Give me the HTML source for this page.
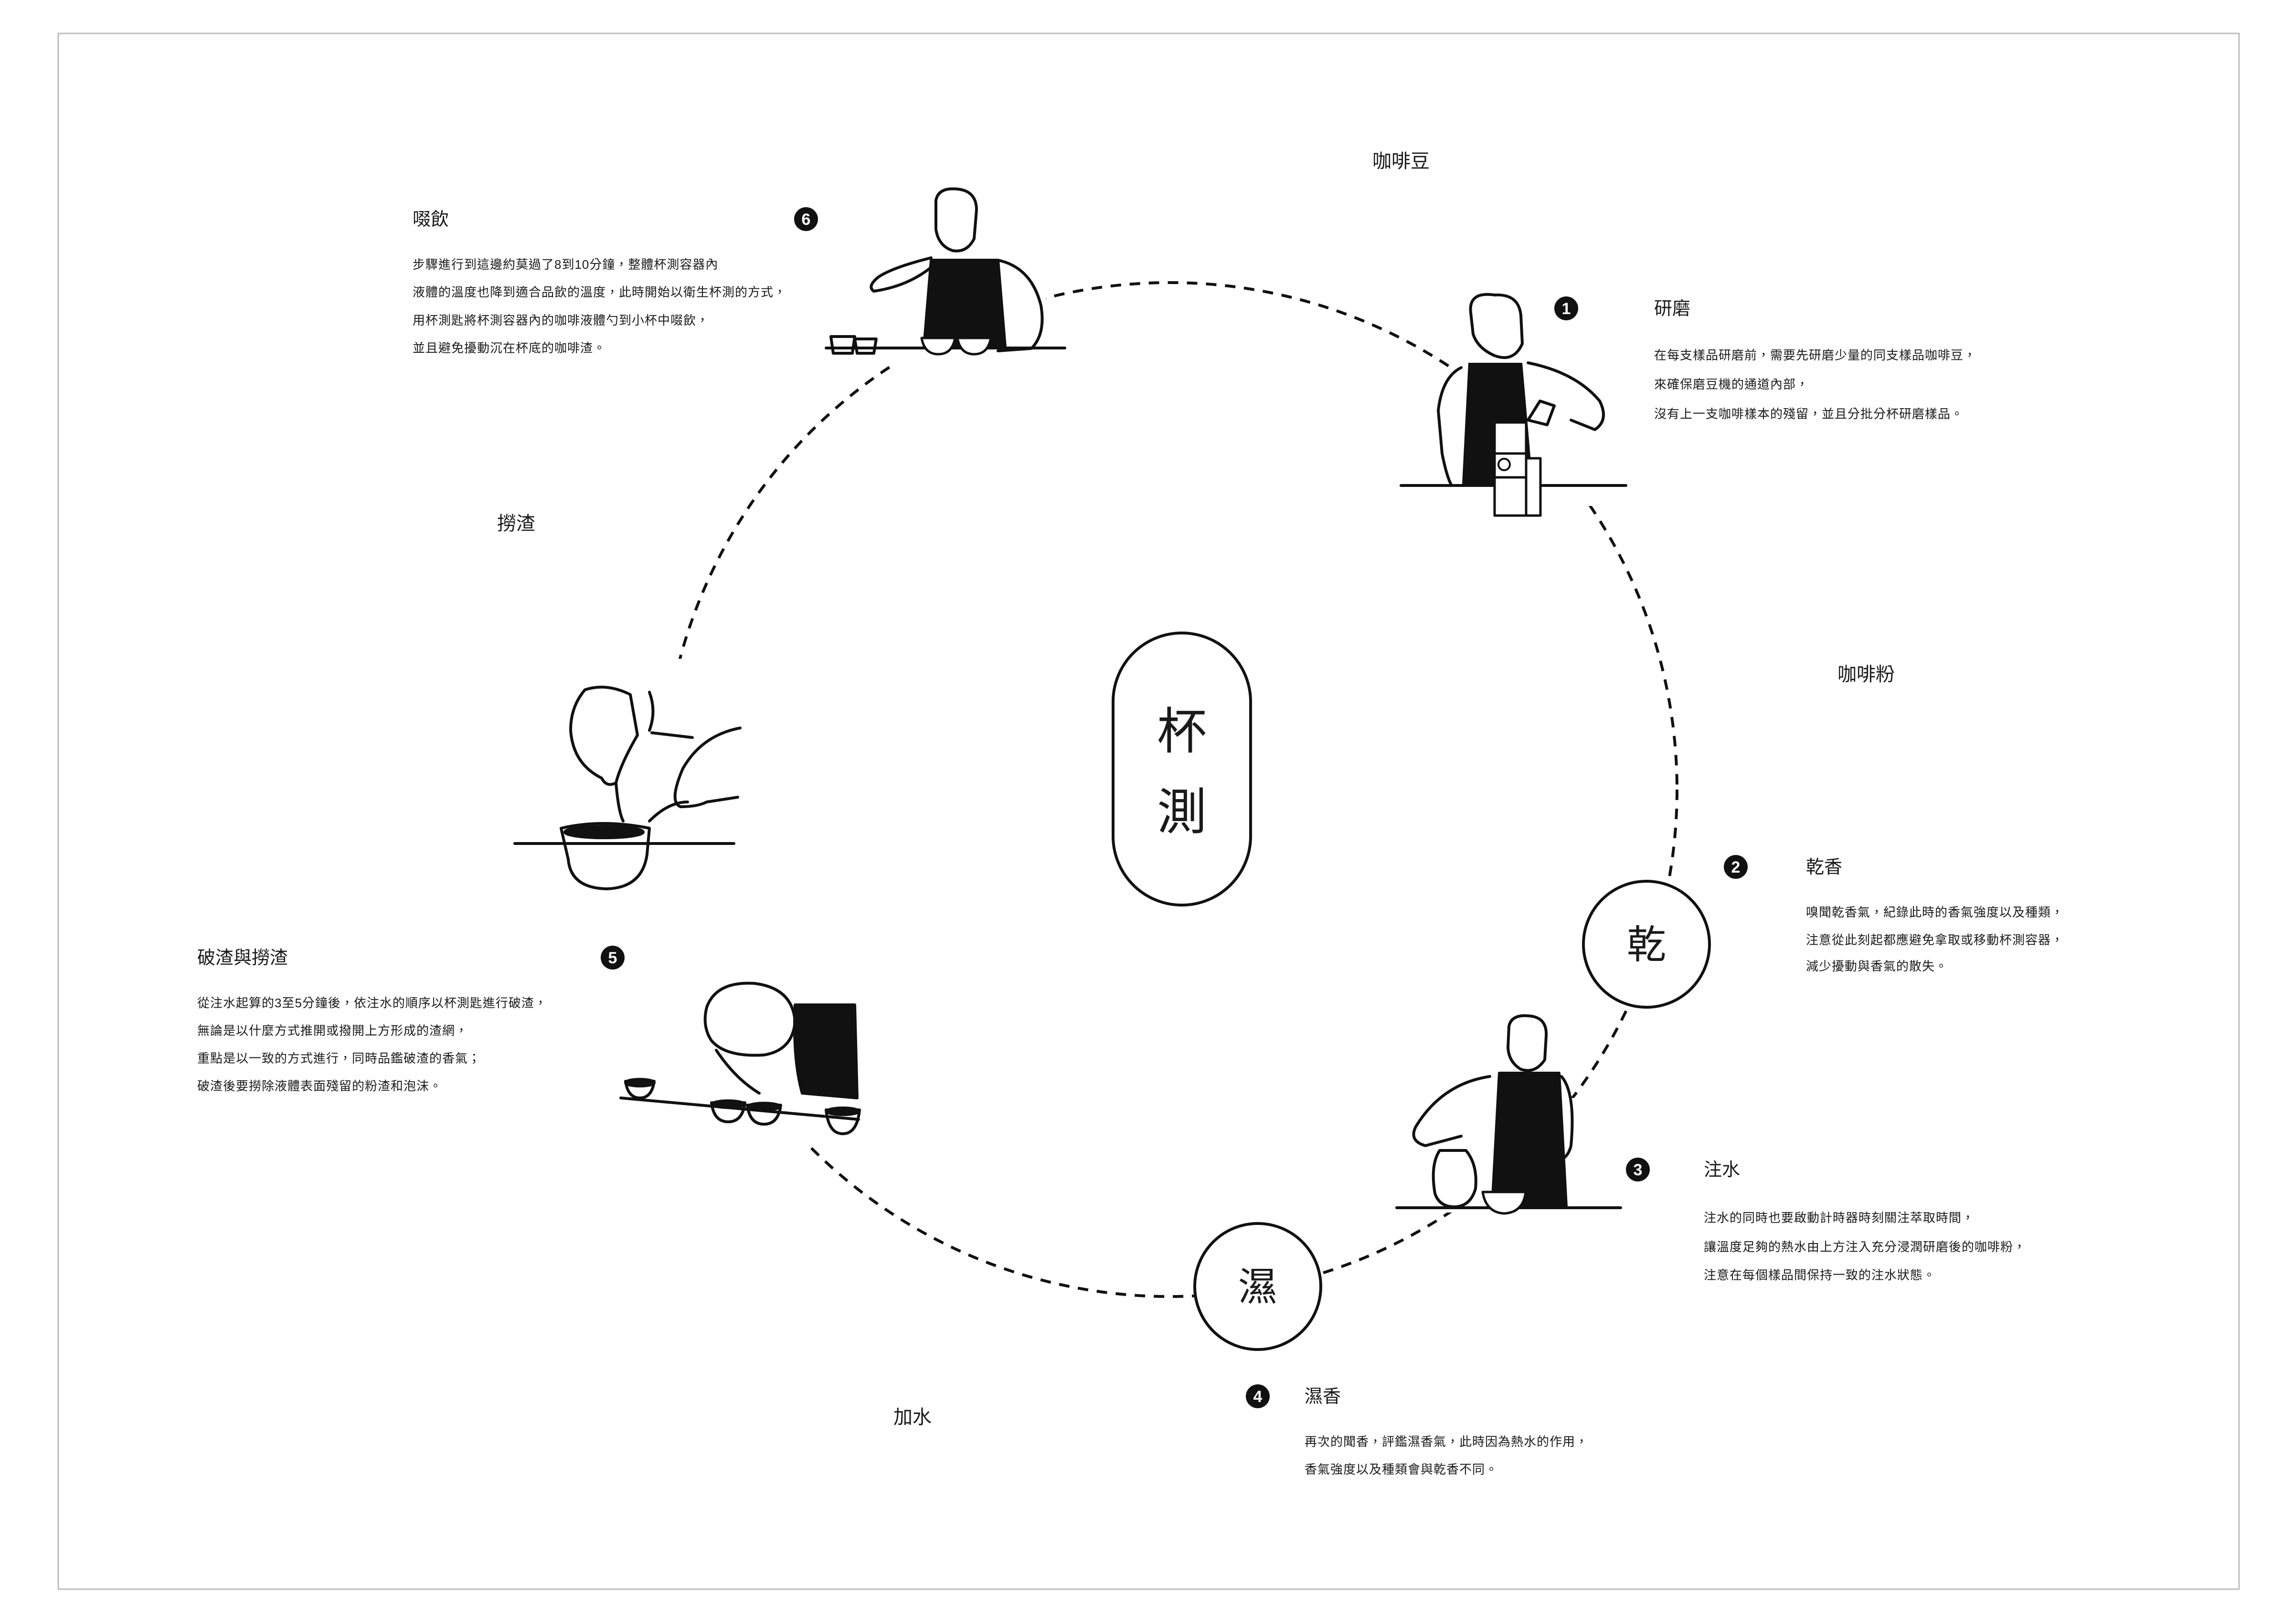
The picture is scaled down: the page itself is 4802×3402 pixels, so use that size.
<!DOCTYPE html>
<html><head><meta charset="utf-8"><style>
html,body{margin:0;padding:0;background:#fff;}
svg{display:block;}
text{font-family:"Liberation Sans","Noto Sans CJK TC",sans-serif;fill:#1a1a1a;}
.h{font-size:38px;}
.b{font-size:26px;letter-spacing:1px;}
.lab{font-size:40px;}
.n{font-size:34px;fill:#fff;font-weight:bold;}
</style></head><body>
<svg width="4802" height="3402" viewBox="0 0 4802 3402" xmlns="http://www.w3.org/2000/svg">
<rect x="0" y="0" width="4802" height="3402" fill="#fff"/>
<rect x="122" y="70" width="4567" height="3259" fill="none" stroke="#bdbdbd" stroke-width="3"/>

<!-- dashed cycle -->
<circle cx="2450" cy="1654" r="1062" fill="none" stroke="#111" stroke-width="6" stroke-dasharray="22 18"/>

<!-- white cover regions for illustrations -->
<g fill="#fff">
<rect x="3035" y="590" width="380" height="470"/>
<rect x="2934" y="800" width="110" height="260"/>
<rect x="3200" y="1060" width="120" height="20"/>
<rect x="2920" y="2300" width="480" height="240"/>
<rect x="2920" y="2110" width="370" height="200"/>
<rect x="1725" y="380" width="465" height="385"/>
<rect x="1070" y="1380" width="490" height="490"/>
<rect x="1295" y="2030" width="510" height="370"/>
<rect x="1295" y="1870" width="200" height="160"/>
</g>

<!-- centre pill -->
<rect x="2331" y="1326" width="288" height="570" rx="144" fill="#fff" stroke="#111" stroke-width="6"/>
<text x="2475" y="1568" text-anchor="middle" style="font-size:104px">杯</text>
<text x="2475" y="1737" text-anchor="middle" style="font-size:104px">測</text>

<!-- 乾 / 濕 circles -->
<circle cx="3448" cy="1978" r="132" fill="#fff" stroke="#111" stroke-width="6"/>
<text x="3448" y="2007" text-anchor="middle" style="font-size:82px">乾</text>
<circle cx="2634" cy="2695" r="132" fill="#fff" stroke="#111" stroke-width="6"/>
<text x="2634" y="2724" text-anchor="middle" style="font-size:82px">濕</text>

<!-- labels -->
<text class="lab" x="2934" y="351" text-anchor="middle">咖啡豆</text>
<text class="lab" x="3908" y="1426" text-anchor="middle">咖啡粉</text>
<text class="lab" x="1081" y="1110" text-anchor="middle">撈渣</text>
<text class="lab" x="1911" y="2982" text-anchor="middle">加水</text>

<!-- badges -->
<g fill="#111">
<circle cx="1688" cy="459" r="25"/><circle cx="3280" cy="646" r="25"/>
<circle cx="3635" cy="1816" r="25"/><circle cx="3430" cy="2450" r="25"/>
<circle cx="2634" cy="2925" r="25"/><circle cx="1283" cy="2006" r="25"/>
</g>
<text class="n" x="1688" y="471" text-anchor="middle">6</text>
<text class="n" x="3280" y="658" text-anchor="middle">1</text>
<text class="n" x="3635" y="1828" text-anchor="middle">2</text>
<text class="n" x="3430" y="2462" text-anchor="middle">3</text>
<text class="n" x="2634" y="2937" text-anchor="middle">4</text>
<text class="n" x="1283" y="2018" text-anchor="middle">5</text>

<!-- step 6 -->
<text class="h" x="864" y="472">啜飲</text>
<text class="b" x="864" y="563">步驟進行到這邊約莫過了8到10分鐘，整體杯測容器內</text>
<text class="b" x="864" y="621">液體的溫度也降到適合品飲的溫度，此時開始以衛生杯測的方式，</text>
<text class="b" x="864" y="680">用杯測匙將杯測容器內的咖啡液體勺到小杯中啜飲，</text>
<text class="b" x="864" y="738">並且避免擾動沉在杯底的咖啡渣。</text>

<!-- step 1 -->
<text class="h" x="3464" y="659">研磨</text>
<text class="b" x="3464" y="753">在每支樣品研磨前，需要先研磨少量的同支樣品咖啡豆，</text>
<text class="b" x="3464" y="814">來確保磨豆機的通道內部，</text>
<text class="b" x="3464" y="876">沒有上一支咖啡樣本的殘留，並且分批分杯研磨樣品。</text>

<!-- step 2 -->
<text class="h" x="3782" y="1829">乾香</text>
<text class="b" x="3782" y="1920">嗅聞乾香氣，紀錄此時的香氣強度以及種類，</text>
<text class="b" x="3782" y="1978">注意從此刻起都應避免拿取或移動杯測容器，</text>
<text class="b" x="3782" y="2033">減少擾動與香氣的散失。</text>

<!-- step 3 -->
<text class="h" x="3568" y="2463">注水</text>
<text class="b" x="3568" y="2560">注水的同時也要啟動計時器時刻關注萃取時間，</text>
<text class="b" x="3568" y="2621">讓溫度足夠的熱水由上方注入充分浸潤研磨後的咖啡粉，</text>
<text class="b" x="3568" y="2680">注意在每個樣品間保持一致的注水狀態。</text>

<!-- step 4 -->
<text class="h" x="2732" y="2938">濕香</text>
<text class="b" x="2732" y="3029">再次的聞香，評鑑濕香氣，此時因為熱水的作用，</text>
<text class="b" x="2732" y="3087">香氣強度以及種類會與乾香不同。</text>

<!-- step 5 -->
<text class="h" x="413" y="2019">破渣與撈渣</text>
<text class="b" x="413" y="2110">從注水起算的3至5分鐘後，依注水的順序以杯測匙進行破渣，</text>
<text class="b" x="413" y="2168">無論是以什麼方式推開或撥開上方形成的渣網，</text>
<text class="b" x="413" y="2226">重點是以一致的方式進行，同時品鑑破渣的香氣；</text>
<text class="b" x="413" y="2284">破渣後要撈除液體表面殘留的粉渣和泡沫。</text>

<!-- ===== illustrations ===== -->
<g fill="none" stroke="#111" stroke-width="6" stroke-linecap="round" stroke-linejoin="round">

<!-- 1 grinder -->
<g>
<path d="M3060 770 Q3020 790 3012 860 L3020 950 Q3030 1000 3040 1017" />
<path d="M3200 760 Q3300 780 3350 840 Q3370 880 3340 900 L3290 880"/>
<path d="M3080 655 Q3075 610 3130 618 Q3180 615 3185 660 L3188 720 Q3170 760 3130 745 Q3095 730 3085 700 Z"/>
<path d="M2934 1017 H3405"/>
<path d="M3200 880 L3225 840 L3255 850 L3240 890 Z"/>
</g>
<path d="M3075 760 L3188 760 L3210 1014 L3062 1014 Z" fill="#111" stroke="none"/>
<rect x="3130" y="885" width="66" height="195" fill="#fff" stroke="#111" stroke-width="5"/>
<rect x="3196" y="960" width="30" height="120" fill="#fff" stroke="#111" stroke-width="5"/>
<path d="M3130 950 H3196 M3130 1000 H3196" stroke="#111" stroke-width="5"/>
<circle cx="3150" cy="973" r="12" fill="none" stroke="#111" stroke-width="4"/>

<!-- 3 pouring -->
<g fill="none" stroke="#111" stroke-width="6" stroke-linecap="round">
<path d="M3160 2150 Q3165 2125 3200 2128 Q3240 2130 3238 2170 L3235 2220 Q3215 2250 3185 2240 Q3160 2225 3158 2195 Z"/>
<path d="M3120 2255 Q3020 2270 2965 2360 Q2950 2390 2985 2400 L3060 2380"/>
<path d="M3270 2255 Q3300 2290 3290 2400 Q3280 2440 3240 2430 L3180 2420"/>
<path d="M2925 2530 H3394"/>
<path d="M3015 2410 Q2995 2440 3005 2500 Q3015 2530 3050 2528 Q3080 2525 3090 2490 Q3095 2440 3070 2410 Z"/>
</g>
<path d="M3140 2248 L3265 2248 L3280 2527 L3125 2527 Z" fill="#111"/>
<path d="M3105 2497 Q3112 2540 3150 2542 Q3190 2540 3195 2497 Z" fill="#fff" stroke="#111" stroke-width="5"/>

<!-- 6 sipping -->
<g fill="none" stroke="#111" stroke-width="6" stroke-linecap="round">
<path d="M1960 420 Q1965 392 2005 396 Q2045 400 2045 440 L2040 500 Q2025 530 1995 525 Q1965 515 1960 480 Z"/>
<path d="M1950 540 Q1870 560 1840 580 Q1815 600 1830 610 Q1900 600 1950 560"/>
<path d="M2090 545 Q2160 560 2180 640 Q2190 700 2160 730 L2090 735"/>
<path d="M1730 729 H2230"/>
<path d="M1740 705 H1790 L1785 740 H1745 Z M1790 710 H1835 L1830 740 H1795 Z"/>
</g>
<path d="M1950 545 L2090 545 L2105 727 L1935 727 Z" fill="#111"/>
<g fill="#fff" stroke="#111" stroke-width="5">
<path d="M1930 708 Q1936 742 1965 742 Q1994 742 2000 708 Z"/>
<path d="M2005 708 Q2011 742 2040 742 Q2069 742 2075 708 Z"/>
</g>

<!-- hands / breaking crust -->
<g fill="none" stroke="#111" stroke-width="6" stroke-linecap="round">
<path d="M1225 1445 Q1270 1430 1320 1455 L1335 1540 Q1300 1600 1290 1640 Q1270 1650 1260 1630 Q1200 1600 1195 1530 Q1195 1480 1225 1445 Z"/>
<path d="M1360 1450 Q1375 1490 1360 1530 M1365 1535 L1450 1545"/>
<path d="M1290 1640 Q1295 1700 1305 1720"/>
<path d="M1550 1525 Q1470 1540 1430 1610 Q1400 1680 1425 1690 Q1460 1690 1480 1680 L1545 1670"/>
<path d="M1440 1680 Q1400 1680 1360 1720"/>
<path d="M1078 1767 H1537"/>
<path d="M1175 1735 Q1260 1715 1360 1735 L1355 1790 Q1345 1860 1270 1862 Q1195 1860 1190 1800 Z"/>
</g>
<ellipse cx="1265" cy="1743" rx="82" ry="12" fill="#111"/>

<!-- 5 smelling -->
<g fill="none" stroke="#111" stroke-width="6" stroke-linecap="round">
<path d="M1480 2110 Q1500 2055 1580 2060 Q1660 2070 1665 2140 Q1660 2200 1600 2210 Q1520 2215 1490 2180 Q1470 2150 1480 2110 Z"/>
<path d="M1500 2200 Q1540 2260 1590 2290"/>
<path d="M1310 2265 Q1315 2300 1340 2300 Q1365 2300 1370 2265 Z"/>
<path d="M1300 2300 L1798 2345"/>
<path d="M1490 2310 Q1495 2350 1525 2350 Q1555 2350 1560 2310 Z"/>
<path d="M1565 2315 Q1570 2355 1600 2355 Q1630 2355 1635 2315 Z"/>
<path d="M1730 2325 Q1735 2375 1765 2375 Q1795 2375 1800 2325 Z"/>
</g>
<path d="M1665 2105 L1790 2105 L1795 2300 L1680 2290 Q1660 2220 1665 2105 Z" fill="#111"/>
<g fill="#111"><ellipse cx="1340" cy="2268" rx="30" ry="7"/><ellipse cx="1525" cy="2313" rx="33" ry="7"/><ellipse cx="1600" cy="2318" rx="33" ry="7"/><ellipse cx="1765" cy="2328" rx="33" ry="7"/></g>
</g>
</svg>
</body></html>
